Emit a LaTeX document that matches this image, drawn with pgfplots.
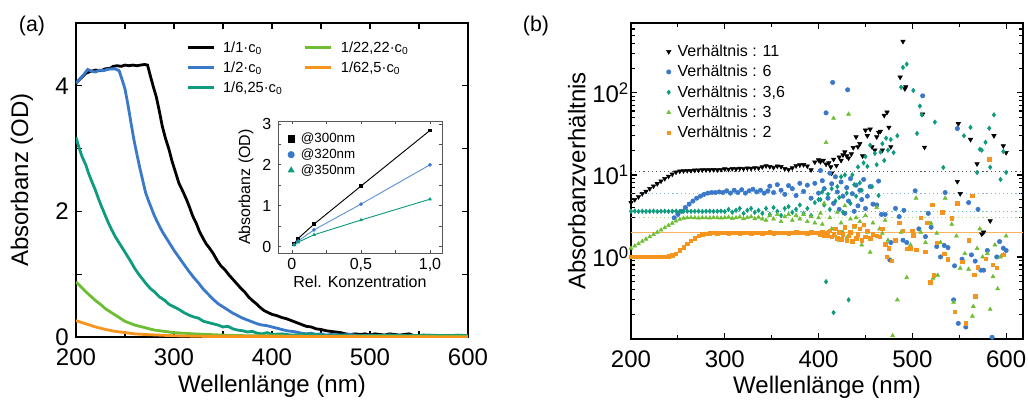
\documentclass[border=0pt]{standalone}
\usepackage{fontspec}
\setmainfont{Liberation Sans}
\usepackage{pgfplots}
\pgfplotsset{compat=1.18}
\usetikzlibrary{plotmarks}

\definecolor{cblack}{HTML}{000000}
\definecolor{cblue}{HTML}{3A78C9}
\definecolor{cteal}{HTML}{0F9B7E}
\definecolor{cgreen}{HTML}{6DBE32}
\definecolor{corange}{HTML}{F7941E}
\definecolor{lblack}{HTML}{555555}
\definecolor{lblue}{HTML}{8DB4E2}
\definecolor{lteal}{HTML}{6CC7B0}
\definecolor{lgreen}{HTML}{A9DC8A}
\definecolor{lorange}{HTML}{F9B25F}

\pgfplotsset{
  panel/.style={
    scale only axis,
    axis line style={line width=1.4pt},
    tick align=inside,
    tick style={black, line width=0.9pt},
    major tick length=4.5pt, minor tick length=3pt,
    tick label style={font=\fontsize{18}{20}\selectfont},
    label style={font=\fontsize{18}{20}\selectfont},
  },
}

\begin{document}
\begin{tikzpicture}

\node[font=\fontsize{16}{18}\selectfont] at (24pt,281.25pt) {(a)};
\node[font=\fontsize{16}{18}\selectfont] at (402pt,281.25pt) {(b)};

% ---------------- (a) absorption spectra ----------------
\begin{axis}[panel,
  at={(57pt,48pt)}, anchor=south west, width=294pt, height=235.5pt,
  xmin=200, xmax=600, ymin=0, ymax=5,
  xtick={200,300,400,500,600}, xticklabels={200,300,400,500,600},
  minor xtick={250,350,450,550}, minor tick length=4.5pt,
  ytick={0,1,2,3,4}, yticklabels={0,,2,,4},
  xlabel={Wellenlänge (nm)}, ylabel={Absorbanz (OD)},
  xlabel style={at={(axis description cs:0.5,-0.178)},anchor=base},
  ylabel style={at={(axis description cs:-0.138,0.5)},anchor=center},
  xticklabel style={anchor=base,yshift=-21pt},
  yticklabel style={xshift=-2pt},
  legend style={at={(axis description cs:0.28,0.95)}, anchor=north west,
    draw=none, fill=none, inner sep=0pt, row sep=1.5pt,
    font=\fontsize{11}{13}\selectfont,
    /tikz/every odd column/.append style={column sep=4pt},
    /tikz/every even column/.append style={column sep=14pt}},
  legend columns=3, transpose legend, legend cell align=left,
  legend image code/.code={\draw[#1, line width=2.3pt] (0pt,0pt) -- (19.5pt,0pt);},
  every axis plot/.append style={line width=2.1pt},
]
\addplot[cblack] coordinates {
(200,4.04)(205,4.12)(210,4.2)(215,4.23)(220,4.25)(225,4.24)(230,4.27)(235,4.28)
(238,4.31)(242,4.32)(246,4.31)(250,4.33)(254,4.32)(258,4.33)(262,4.32)(266,4.33)(270,4.34)
(273,4.33)(276,4.15)(279,3.98)(282,3.82)(285,3.6)(288,3.36)(291,3.18)(295,2.98)(298,2.8)
(302,2.6)(305,2.45)(309,2.32)(313,2.18)(316,2.06)(319,1.93)(323,1.8)(326,1.68)(330,1.56)
(333,1.48)(336,1.42)(340,1.33)(344,1.22)(348,1.13)(352,1.07)(356,0.99)(360,0.92)(364,0.85)
(368,0.78)(372,0.72)(376,0.64)(380,0.58)(384,0.53)(388,0.47)(392,0.42)(396,0.39)(400,0.36)
(405,0.34)(410,0.31)(415,0.29)(420,0.26)(425,0.23)(430,0.2)(435,0.17)(440,0.16)(445,0.13)
(450,0.12)(455,0.1)(460,0.09)(465,0.08)(470,0.07)(475,0.05)(480,0.04)(485,0.05)(490,0.04)
(495,0.05)(500,0.03)(505,0.05)(510,0.04)(515,0.03)(520,0.05)(525,0.04)(530,0.03)(535,0.04)
(540,0.05)(545,0.02)(550,0.02)(555,0.03)(560,0.02)(570,0.02)(580,0.02)(590,0.01)(600,0.01)};
\addlegendentry{1/1·c\textsubscript{0}}
\addplot[cblue] coordinates {
(200,4.04)(204,4.11)(208,4.18)(212,4.26)(216,4.23)(220,4.22)(224,4.25)(228,4.24)(232,4.26)
(236,4.27)(240,4.27)(244,4.24)(247,4.1)(250,3.95)
(253,3.7)(256,3.42)(259,3.15)(262,2.92)(265,2.7)(268,2.5)(271,2.3)(274,2.17)(277,2.05)
(280,1.93)(284,1.8)(288,1.68)(292,1.58)(296,1.48)(300,1.38)(305,1.27)(310,1.16)(315,1.05)
(320,0.95)(325,0.86)(330,0.76)(335,0.68)(340,0.6)(345,0.53)(350,0.48)(355,0.43)(360,0.38)
(365,0.34)(370,0.3)(375,0.27)(380,0.24)(385,0.21)(390,0.19)(395,0.18)(400,0.16)(405,0.14)
(410,0.12)(415,0.1)(420,0.09)(425,0.08)(430,0.06)(435,0.05)(440,0.06)(445,0.04)(450,0.05)
(455,0.03)(460,0.04)(470,0.03)(480,0.04)(490,0.02)(500,0.03)(510,0.02)(520,0.03)(540,0.02)
(560,0.02)(580,0.01)(600,0.02)};
\addlegendentry{1/2·c\textsubscript{0}}
\addplot[cteal] coordinates {
(200,3.18)(203,3.02)(206,2.88)(210,2.74)(213,2.6)(216,2.48)(220,2.33)(223,2.2)(226,2.08)
(230,1.93)(233,1.82)(236,1.72)(240,1.6)(244,1.5)(248,1.4)(252,1.3)(256,1.2)(260,1.09)
(264,1.0)(268,0.92)(272,0.84)(276,0.77)(280,0.72)(285,0.64)(290,0.59)(295,0.52)(300,0.48)
(305,0.44)(310,0.39)(315,0.35)(320,0.32)(325,0.3)(330,0.25)(335,0.23)(340,0.21)(345,0.19)
(350,0.16)(355,0.17)(360,0.13)(365,0.11)(370,0.1)(375,0.08)(380,0.09)(385,0.06)(390,0.05)
(395,0.07)(400,0.04)(410,0.05)(420,0.03)(430,0.04)(440,0.05)(450,0.03)(460,0.02)(470,0.03)
(480,0.02)(500,0.02)(520,0.03)(540,0.02)(560,0.03)(580,0.02)(590,0.03)(600,0.02)};
\addlegendentry{1/6,25·c\textsubscript{0}}
\addplot[cgreen] coordinates {
(200,0.88)(205,0.8)(210,0.72)(215,0.65)(220,0.58)(225,0.52)(230,0.45)(235,0.4)(240,0.35)
(245,0.3)(250,0.25)(255,0.22)(260,0.19)(265,0.17)(270,0.15)(275,0.13)(280,0.11)(285,0.1)
(290,0.09)(300,0.07)(310,0.06)(320,0.05)(335,0.04)(350,0.03)(375,0.02)(400,0.02)(450,0.01)
(500,0.01)(600,0.01)};
\addlegendentry{1/22,22·c\textsubscript{0}}
\addplot[corange] coordinates {
(200,0.26)(210,0.21)(220,0.16)(230,0.12)(240,0.09)(250,0.07)(260,0.05)(270,0.04)(285,0.03)
(300,0.02)(330,0.01)(400,0.01)(600,0.0)};
\addlegendentry{1/62,5·c\textsubscript{0}}
\end{axis}

% ---------------- (a) inset: absorbance vs. concentration ----------------
\begin{axis}[
  at={(208.5pt,111pt)}, anchor=south west, scale only axis, width=123pt, height=99pt,
  xmin=-0.101, xmax=1.087, ymin=-0.155, ymax=3.07,
  axis background/.style={fill=white},
  axis line style={line width=0.6pt, black!65},
  tick align=inside, tick style={black!70, line width=0.5pt},
  major tick length=2.5pt, minor tick length=2.5pt,
  xtick={0,0.5,1}, xticklabels={0,{0,5},{1,0}}, minor xtick={0.25,0.75},
  ytick={0,1,2,3}, yticklabels={0,1,2,3}, minor ytick={0.5,1.5,2.5},
  tick label style={font=\fontsize{12}{14}\selectfont},
  label style={font=\fontsize{12}{14}\selectfont},
  xticklabel style={anchor=base,yshift=-12pt},
  yticklabel style={xshift=-1.5pt},
  xlabel={Rel. Konzentration}, ylabel={Absorbanz (OD)},
  xlabel style={at={(axis description cs:0.5,-0.265)},anchor=base},
  ylabel style={at={(axis description cs:-0.195,0.5)},anchor=center},
  legend style={at={(axis description cs:0.06,0.93)}, anchor=north west,
    draw=none, fill=none, inner sep=0pt, row sep=-1pt,
    font=\fontsize{10}{12}\selectfont,
    /tikz/every odd column/.append style={column sep=3pt}},
  legend cell align=left,
  legend image code/.code={\draw[#1, mark size=2.3pt] plot coordinates {(0pt,0pt)};},
  every axis plot/.append style={line width=0.7pt, mark size=1pt},
]
\addplot[cblack, mark=square*] coordinates {(0.016,0.07)(0.045,0.2)(0.16,0.55)(0.5,1.48)(1,2.84)};
\addlegendentry{@300nm}
\addplot[cblue!80, mark=*, mark options={cblue}] coordinates {(0.016,0.05)(0.045,0.14)(0.16,0.41)(0.5,1.04)(1,2.0)};
\addlegendentry{@320nm}
\addplot[cteal, mark=triangle*] coordinates {(0.016,0.04)(0.045,0.11)(0.16,0.29)(0.5,0.65)(1,1.16)};
\addlegendentry{@350nm}
\end{axis}

% ---------------- (b) absorbance ratios ----------------
\begin{axis}[panel,
  at={(473.25pt,46.5pt)}, anchor=south west, width=294pt, height=237pt,
  ymode=log, xmin=200, xmax=618, ymin=0.1, ymax=710,
  xtick={200,300,400,500,600}, xticklabels={200,300,400,500,600},
  minor xtick={250,350,450,550},
  ytick={1,10,100},
  yticklabels={10\textsuperscript{0},10\textsuperscript{1},10\textsuperscript{2}},
  minor ytick={0.2,0.3,0.4,0.5,0.6,0.7,0.8,0.9,2,3,4,5,6,7,8,9,20,30,40,50,60,70,80,90,200,300,400,500,600,700},
  xlabel={Wellenlänge (nm)}, ylabel={Absorbanzverhältnis},
  xlabel style={at={(axis description cs:0.5,-0.174)},anchor=base},
  ylabel style={at={(axis description cs:-0.138,0.5)},anchor=center},
  xticklabel style={anchor=base,yshift=-21pt},
  yticklabel style={xshift=2pt},
  legend style={at={(axis description cs:0.09,0.94)}, anchor=north west,
    draw=none, fill=none, inner sep=0pt, row sep=1pt,
    font=\fontsize{12}{14}\selectfont,
    /tikz/every odd column/.append style={column sep=3pt}},
  legend cell align=left,
  legend image code/.code={\draw[#1] plot coordinates {(0pt,0pt)};},
]
% reference levels
\addplot[forget plot, lblack, line width=0.9pt, dash pattern=on 0.9pt off 2.2pt] coordinates {(200,11)(618,11)};
\addplot[forget plot, lblue, line width=0.9pt, dash pattern=on 0.9pt off 2.2pt] coordinates {(200,6)(618,6)};
\addplot[forget plot, lteal, line width=0.9pt, dash pattern=on 0.9pt off 2.2pt] coordinates {(200,3.6)(618,3.6)};
\addplot[forget plot, lgreen, line width=0.9pt, dash pattern=on 0.9pt off 2.2pt] coordinates {(200,3)(618,3)};
\addplot[forget plot, lorange, line width=0.6pt] coordinates {(200,2)(618,2)};

\addplot[only marks, mark=triangle*, mark size=1.9pt, mark options={rotate=180, cblack, draw=cblack}, cblack] coordinates {
(200,4.6)(204,5.0)(208,5.4)(212,5.9)(216,6.3)(220,6.8)(224,7.3)(228,7.8)(232,8.4)(236,9.0)
(240,9.6)(244,10.2)(248,10.8)(252,11.1)(256,11.2)(260,11.3)(264,11.3)(268,11.4)(272,11.4)
(276,11.5)(280,11.5)(284,11.5)(288,11.6)(292,11.5)(296,11.6)(300,11.8)(304,11.7)(308,11.9)
(312,11.8)(316,12.0)(320,11.9)(324,12.1)(328,12.0)(332,12.2)(336,12.1)(340,12.5)(344,12.9)
(348,12.6)(352,12.3)(356,12.8)(360,12.6)(364,11.9)(368,11.6)(372,12.2)(376,12.9)(380,13.2)
(384,13.3)(388,12.8)(392,11.5)(396,14.3)(400,15.2)
(402,14.5)(405,15)(408,13.5)(411,14)(413,12.5)(414,10.5)(416,15.5)(419,13)(422,16.5)(424,15)
(426,17.5)(428,19)(430,17)(432,16)(435,18)(437,21.5)(440,29)(442,22)(444,24)(447,17)(450,35)
(452,30)(455,36)(457,22)(460,20)(462,29)(464,33)(466,34)(468,20)(470,53)(473,58)(475,38)
(477,22)(487,155)(490,423)(492,112)(493,118)(511,55)(513,21.7)(548,8.3)(549,42)(551,5.9)
(562,27)(569,13.6)(574,1.9)(576,2.0)(583,2.75)(587,30)(597,22.6)(600,18.7)};
\addlegendentry{Verhältnis : 11}

\addplot[only marks, mark=*, mark size=1.65pt, cblue] coordinates {
(246,3.0)(250,3.3)(254,3.6)(258,4.0)(262,4.4)(266,4.8)(270,5.2)(274,5.5)(278,5.8)(282,6.0)
(286,6.1)(290,6.1)(294,6.2)(298,6.1)(302,6.4)(306,6.0)(310,6.5)(314,6.1)(318,6.6)(322,6.0)
(326,6.4)(330,6.7)(334,6.2)(338,6.5)(342,6.0)(346,6.4)(348,7.3)(352,6.1)(356,7.6)(360,6.5)
(364,5.8)(368,7.4)(372,6.8)(376,5.6)(380,7.9)(384,6.3)(388,7.5)(392,5.2)(396,7.9)(400,6.0)
(402,11.3)(404,8.5)(406,6.8)(408,57)(410,5.2)(412,10.5)(414,7.8)(415,134)(416,4.5)(418,9.5)
(420,6.2)(422,3.8)(424,8.2)(426,5.5)(428,3.4)(430,7.0)(431,109)(432,4.8)(434,9.0)(436,5.9)
(438,3.6)(440,7.5)(442,4.2)(444,6.5)(446,5.0)(448,8.8)(450,3.9)(452,5.5)(455,7.2)(458,4.4)
(462,4.3)(464,8.4)(467,3.3)(471,3.3)(476,0.92)(477,1.5)(482,3.9)(486,3.1)(490,1.6)(491,3.7)
(494,1.5)(503,6.4)(507,2.2)(511,92)(514,1.77)(517,3.4)(520,2.3)(526,1.34)(530,1.0)(534,1.38)
(535,6.1)(538,1.3)(544,0.30)(545,0.78)(548,36.7)(549,0.155)(553,0.94)(557,0.14)(560,4.6)
(563,1.06)(567,0.89)(570,3.8)(573,0.69)(576,0.69)(580,1.2)(585,0.105)(590,1.0)(593,1.54)
(597,1.28)(600,1.2)};
\addlegendentry{Verhältnis : 6}

\addplot[only marks, mark=diamond*, mark size=1.7pt, cteal] coordinates {
(200,3.6)(204,3.62)(208,3.58)(212,3.61)(216,3.59)(220,3.6)(224,3.62)(228,3.58)(232,3.6)
(236,3.61)(240,3.59)(244,3.6)(248,3.62)(252,3.58)(256,3.6)(260,3.61)(264,3.59)(268,3.6)
(272,3.62)(276,3.58)(280,3.6)(284,3.61)(288,3.59)(292,3.6)(296,3.62)(300,3.58)(304,3.8)
(308,3.5)(312,3.7)(316,3.9)(320,3.4)(324,3.7)(328,3.9)(332,3.5)(336,3.7)(340,3.4)(344,3.9)
(348,3.3)(352,4.0)(356,3.6)(360,3.2)(364,3.9)(368,4.1)(372,3.5)(376,3.8)(380,4.3)(384,3.4)
(388,3.9)(392,3.2)(396,4.6)(400,5.0)
(402,5.0)(404,6.2)(406,4.3)(408,0.5)(410,5.8)(412,3.8)(414,6.8)(416,0.21)(418,4.8)(420,7.2)
(422,5.3)(424,9.5)(426,3.5)(428,10)(430,6.0)(432,0.30)(434,4.5)(436,10)(438,7.6)(440,5.5)
(442,12.5)(444,8.0)(446,6.5)(448,14)(450,16.7)(452,12.7)(455,23)(457,7.2)(460,18.3)(462,13.3)
(464,5.6)(466,19)(468,24)(470,15)(472,28)(474,20)(477,27)(480,18.7)(484,30)(488,117)
(490,204)(494,224)(501,107)(505,32)(508,69)(510,54)(524,44)(533,12.3)(555,30)(562,38)
(569,10.7)(572,20.5)(574,20)(578,25)(582,37)(583,12.4)(587,54)(594,8.8)(597,19.3)(600,10.7)};
\addlegendentry{Verhältnis : 3,6}

\addplot[only marks, mark=triangle*, mark size=1.7pt, cgreen] coordinates {
(200,1.28)(204,1.36)(208,1.45)(212,1.55)(216,1.65)(220,1.76)(224,1.88)(228,2.0)(232,2.13)
(236,2.27)(240,2.42)(244,2.58)(248,2.74)(252,2.88)(256,2.97)(260,3.0)(264,3.02)(268,3.0)
(272,2.98)(276,3.01)(280,3.0)(284,2.99)(288,3.02)(292,3.0)(296,2.98)(300,3.01)(304,3.05)
(308,2.95)(312,3.0)(316,3.08)(320,2.93)(324,3.02)(328,3.1)(332,2.92)(336,3.05)(340,2.9)
(344,2.8)(348,3.2)(352,2.9)(356,3.3)(360,2.7)(364,3.1)(368,3.3)(372,2.8)(376,3.2)(380,2.9)
(384,3.3)(388,2.7)(392,3.1)(396,2.6)(400,3.0)
(402,3.4)(404,2.5)(406,4.5)(408,24.8)(410,2.0)(412,3.0)(414,2.2)(416,49)(418,1.8)(420,3.5)
(422,1.6)(424,2.6)(426,2.0)(428,4.2)(430,1.7)(432,55)(434,2.9)(436,1.5)(438,2.3)(440,3.0)
(442,1.8)(444,2.7)(446,1.4)(448,2.4)(450,3.2)(452,2.0)(455,1.14)(458,2.6)(462,4.0)(465,2.2)
(468,1.94)(471,2.8)(474,1.6)(479,0.11)(484,0.30)(488,2.0)(494,0.56)(498,1.4)(504,5.2)
(509,2.0)(514,1.5)(520,2.57)(522,0.55)(526,1.94)(527,0.6)(530,1.5)(535,5.2)(542,2.5)
(544,0.28)(547,1.8)(551,0.73)(556,1.1)(560,0.71)(564,0.19)(565,0.25)(569,1.27)(572,2.2)
(575,1.0)(580,1.1)(583,0.23)(586,0.575)(588,1.4)(591,0.41)(594,1.0)(597,1.06)(600,1.8)};
\addlegendentry{Verhältnis : 3}

\addplot[only marks, mark=square*, mark size=1.3pt, corange] coordinates {
(200,1.0)(204,1.0)(208,1.0)(212,1.0)(216,1.0)(220,1.0)(224,1.0)(228,1.0)(232,1.0)(236,1.01)
(240,1.02)(244,1.05)(248,1.1)(252,1.2)(256,1.32)(260,1.45)(264,1.58)(268,1.7)(272,1.8)
(276,1.88)(280,1.93)(284,1.95)(288,1.96)(292,1.95)(296,1.96)(300,1.97)(304,1.95)(308,1.96)
(312,1.97)(316,1.95)(320,1.96)(324,1.97)(328,1.95)(332,1.96)(336,1.98)(340,1.95)(344,1.97)
(348,1.99)(352,1.95)(356,1.97)(360,1.96)(364,1.98)(368,1.94)(372,1.97)(376,2.0)(380,1.96)
(384,1.98)(388,1.95)(392,2.0)(396,1.96)(400,1.97)
(402,1.9)(404,2.0)(406,1.85)(408,1.95)(410,1.8)(412,2.1)(414,1.75)(416,1.9)(418,2.2)(420,1.7)
(422,2.0)(424,1.65)(426,1.9)(428,2.3)(430,1.6)(432,1.8)(434,2.0)(436,1.55)(438,2.4)(440,1.7)
(442,1.9)(444,2.2)(446,1.6)(448,2.45)(450,1.75)(452,2.1)(455,1.7)(458,1.9)(462,1.8)(465,1.75)
(468,2.2)(471,1.43)(473,1.0)(475,1.28)(478,0.9)(482,1.6)(486,2.6)(490,2.08)(494,1.25)
(498,1.28)(500,2.08)(501,1.85)(504,1.22)(509,3.0)(514,1.16)(516,2.6)(519,0.49)(521,4.3)
(523,0.6)(526,1.5)(532,3.5)(534,1.1)(538,0.94)(542,2.96)(545,0.215)(548,4.5)(553,0.88)
(557,0.155)(560,1.6)(564,5.6)(566,0.61)(567,0.33)(570,0.75)(578,0.95)(582,15.5)(586,0.8)
(590,0.74)(597,1.06)};
\addlegendentry{Verhältnis : 2}
\end{axis}

\pgfresetboundingbox
\useasboundingbox (0pt,0pt) rectangle (771pt,300.75pt);
\end{tikzpicture}
\end{document}
